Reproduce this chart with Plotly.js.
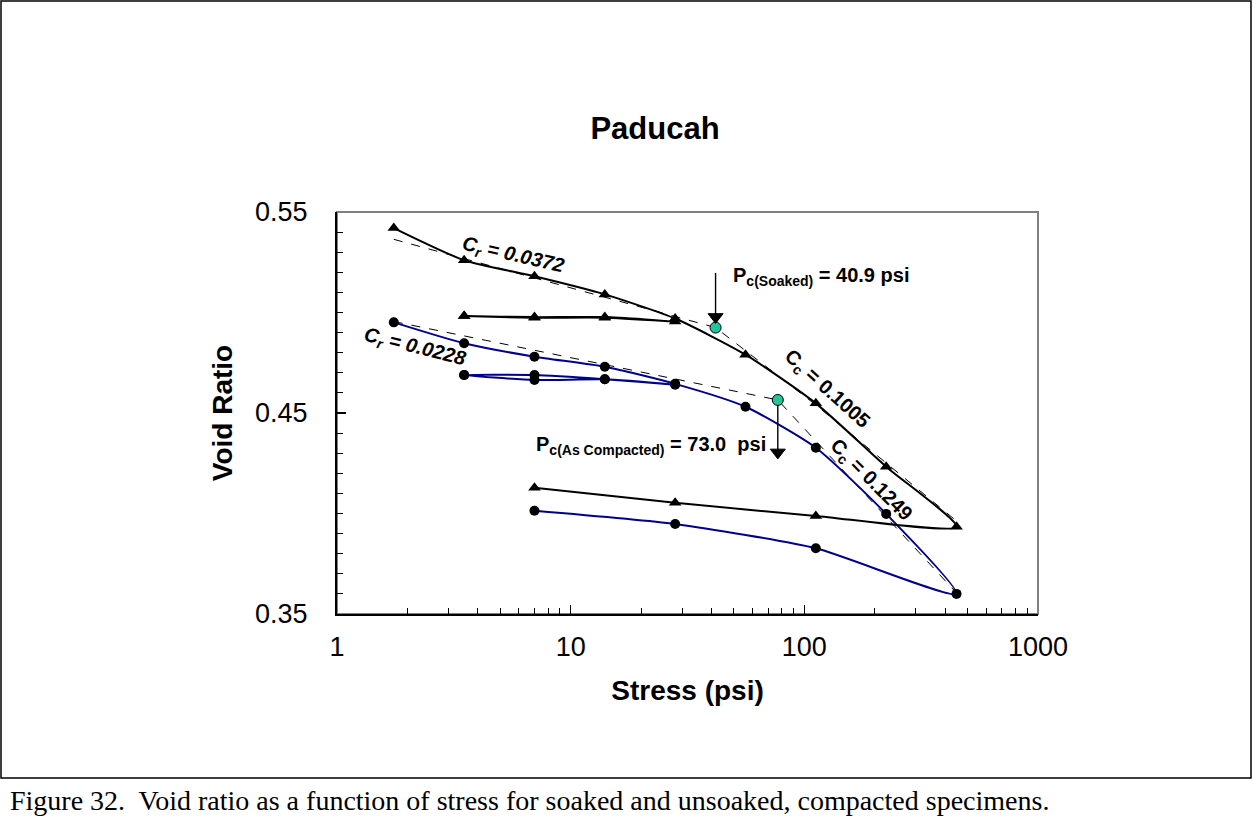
<!DOCTYPE html>
<html>
<head>
<meta charset="utf-8">
<script src="https://cdn.plot.ly/plotly-3.0.1.min.js"></script>
<style>
  html, body { margin: 0; padding: 0; background: #fff; }
  #chart { width: 1253px; height: 830px; }
</style>
</head>
<body>
<div id="chart"></div>
<script>
// ---- Data ----
// Soaked specimen (black line, triangles)
const soakedStress = [1.75, 3.5, 7, 14, 28, 56, 112, 224, 448, 112, 28, 7];
const soakedVoid   = [0.542, 0.526, 0.518, 0.509, 0.497, 0.479, 0.4548, 0.4233, 0.3934, 0.3988, 0.4054, 0.4128];
const soakedLoopStress = [3.5, 7, 14, 28, 14, 7, 3.5];
const soakedLoopVoid   = [0.4982, 0.4974, 0.4974, 0.4955, 0.4977, 0.4977, 0.4982];

// As-compacted specimen (blue line, circles)
const compStress = [1.75, 3.5, 7, 14, 28, 56, 112, 224, 448, 112, 28, 7];
const compVoid   = [0.4951, 0.4847, 0.478, 0.473, 0.4645, 0.4531, 0.4327, 0.3998, 0.360, 0.3827, 0.3948, 0.4014];
const compLoopStress = [3.5, 7, 14, 28, 14, 7, 3.5];
const compLoopVoid   = [0.4689, 0.4689, 0.4668, 0.4641, 0.4668, 0.4664, 0.4689];

// Construction (dashed) lines
const soakedFitStress = [1.75, 41.7, 112, 440];
const soakedFitVoid   = [0.5364, 0.4925, 0.454, 0.397];
const compFitStress = [1.75, 77, 448];
const compFitVoid   = [0.4955, 0.4565, 0.3605];

// Preconsolidation points
const pcStress = [41.7, 77];
const pcVoid   = [0.4925, 0.4565];

// Preconsolidation arrows (tail, head) in data units
const soakedArrowStress = [41.7, 41.7];
const soakedArrowVoid   = [0.5197, 0.4978];
const compArrowStress = [77, 77];
const compArrowVoid   = [0.4538, 0.4304];

// Axis ticks
const xTickVals = [1, 10, 100, 1000];
const xTickText = ['1', '10', '100', '1000'];
const yTickVals = [0.35, 0.45, 0.55];
const yTickText = ['0.35', '0.45', '0.55'];

// Text labels
const titleText = 'Paducah';
const xTitle = 'Stress (psi)';
const yTitle = 'Void Ratio';
const caption = 'Figure 32.  Void ratio as a function of stress for soaked and unsoaked, compacted specimens.';

// ---- Layout geometry ----
const W = 1253, H = 830;
const L = 337, R = 1038, T = 212, B = 614;
const px = (x) => (x - L) / (R - L);
const py = (y) => (B - y) / (B - T);

const xMinor = [];
[1, 10, 100].forEach(d => { for (let k = 2; k <= 9; k++) xMinor.push(d * k); });
const yMinor = [];
for (let k = 36; k <= 54; k++) yMinor.push(+(k / 100).toFixed(2));

const FONT = 'Liberation Sans, Arial, sans-serif';
const NAVY = '#000088';

const traces = [
  { x: soakedFitStress, y: soakedFitVoid, mode: 'lines', line: { color: '#000', width: 1, dash: 'dash' }, hoverinfo: 'skip' },
  { x: compFitStress, y: compFitVoid, mode: 'lines', line: { color: '#000', width: 1, dash: 'dash' }, hoverinfo: 'skip' },
  { x: compLoopStress, y: compLoopVoid, mode: 'lines+markers', line: { color: NAVY, width: 2, shape: 'spline', smoothing: 0.6 },
    marker: { symbol: 'circle', size: 10, color: '#000' } },
  { x: compStress, y: compVoid, mode: 'lines+markers', line: { color: NAVY, width: 2, shape: 'spline', smoothing: 0.6 },
    marker: { symbol: 'circle', size: 10, color: '#000' } },
  { x: soakedLoopStress, y: soakedLoopVoid, mode: 'lines+markers', line: { color: '#000', width: 2, shape: 'spline', smoothing: 0.6 },
    marker: { symbol: 'triangle-up', size: 11, color: '#000' } },
  { x: soakedStress, y: soakedVoid, mode: 'lines+markers', line: { color: '#000', width: 2, shape: 'spline', smoothing: 0.6 },
    marker: { symbol: 'triangle-up', size: 11, color: '#000' } },
  { x: pcStress, y: pcVoid, mode: 'markers', marker: { symbol: 'circle', size: 11, color: '#22C49A', line: { color: '#000', width: 1 } } },
  { x: soakedArrowStress, y: soakedArrowVoid, mode: 'lines', line: { color: '#000', width: 1.4 } },
  { x: [soakedArrowStress[1]], y: [soakedArrowVoid[1]], mode: 'markers',
    marker: { symbol: 'triangle-down', size: 13, color: '#000', line: { color: '#000', width: 1 } } },
  { x: compArrowStress, y: compArrowVoid, mode: 'lines', line: { color: '#000', width: 1.4 } },
  { x: [compArrowStress[1]], y: [compArrowVoid[1]], mode: 'markers',
    marker: { symbol: 'triangle-down', size: 13, color: '#000', line: { color: '#000', width: 1 } } }
];

const annFont = (sz) => ({ family: FONT, size: sz, color: '#000' });

const annotations = [
  { xref: 'paper', yref: 'paper', x: px(513), y: py(256), xanchor: 'center', yanchor: 'middle', textangle: 13, showarrow: false,
    text: '<b><i>C<sub>r</sub> = 0.0372</i></b>', font: annFont(20) },
  { xref: 'paper', yref: 'paper', x: px(415), y: py(347), xanchor: 'center', yanchor: 'middle', textangle: 14, showarrow: false,
    text: '<b><i>C<sub>r</sub> = 0.0228</i></b>', font: annFont(20) },
  { xref: 'paper', yref: 'paper', x: px(731), y: py(276), xanchor: 'left', yanchor: 'middle', showarrow: false,
    text: '<b>P<sub>c(Soaked)</sub> = 40.9 psi</b>', font: annFont(20) },
  { xref: 'paper', yref: 'paper', x: px(534), y: py(445), xanchor: 'left', yanchor: 'middle', showarrow: false,
    text: '<b>P<sub>c(As Compacted)</sub> = 73.0  psi</b>', font: annFont(20) },
  { xref: 'paper', yref: 'paper', x: px(827), y: py(389), xanchor: 'center', yanchor: 'middle', textangle: 42, showarrow: false,
    text: '<b>C<sub>c</sub> = 0.1005</b>', font: annFont(20) },
  { xref: 'paper', yref: 'paper', x: px(871), y: py(480), xanchor: 'center', yanchor: 'middle', textangle: 45, showarrow: false,
    text: '<b>C<sub>c</sub> = 0.1249</b>', font: annFont(20) },
  // caption
  { xref: 'paper', yref: 'paper', x: px(8), y: py(800), xanchor: 'left', yanchor: 'middle', showarrow: false,
    text: caption, font: { family: 'Liberation Serif, Times New Roman, serif', size: 28, color: '#000' } }
];

const layout = {
  width: W, height: H,
  margin: { l: L, r: W - R, t: T, b: H - B, pad: 0 },
  paper_bgcolor: '#fff', plot_bgcolor: '#fff',
  showlegend: false,
  title: { text: '<b>' + titleText + '</b>', x: 655 / W, xanchor: 'center', xref: 'container', y: 1 - 128 / H, yanchor: 'middle', yref: 'container',
    font: { family: FONT, size: 31, color: '#000' } },
  xaxis: {
    type: 'log', range: [0, 3], showgrid: false, zeroline: false,
    showline: true, linecolor: '#000', linewidth: 2,
    tickmode: 'array', tickvals: xTickVals, ticktext: xTickText,
    ticks: 'inside', ticklen: 9, tickwidth: 1.3, tickcolor: '#000',
    minor: { tickmode: 'array', tickvals: xMinor, ticks: 'inside', ticklen: 6, tickwidth: 1, tickcolor: '#000', showgrid: false },
    tickfont: { family: FONT, size: 27, color: '#000' },
    ticklabelstandoff: 8,
    title: { text: '<b>' + xTitle + '</b>', font: { family: FONT, size: 28, color: '#000' }, standoff: 19 }
  },
  yaxis: {
    range: [0.35, 0.55], showgrid: false, zeroline: false,
    showline: true, linecolor: '#000', linewidth: 2,
    tickmode: 'array', tickvals: yTickVals, ticktext: yTickText,
    ticks: 'inside', ticklen: 9, tickwidth: 1.3, tickcolor: '#000',
    minor: { tickmode: 'array', tickvals: yMinor, ticks: 'inside', ticklen: 6, tickwidth: 1, tickcolor: '#000', showgrid: false },
    tickfont: { family: FONT, size: 27, color: '#000' },
    ticklabelstandoff: 22,
    title: { text: '<b>' + yTitle + '</b>', font: { family: FONT, size: 28, color: '#000' }, standoff: 14 }
  },
  shapes: [
    { type: 'rect', xref: 'paper', yref: 'paper', x0: 0, x1: 1, y0: 0, y1: 1, line: { color: '#808080', width: 2 }, layer: 'below' },
    { type: 'rect', xref: 'paper', yref: 'paper', x0: px(1), x1: px(1251), y0: py(778), y1: py(1), line: { color: '#000', width: 1.5 }, layer: 'below' }
  ],
  annotations: annotations
};

Plotly.newPlot('chart', traces, layout, { staticPlot: true, displayModeBar: false });
</script>
</body>
</html>
